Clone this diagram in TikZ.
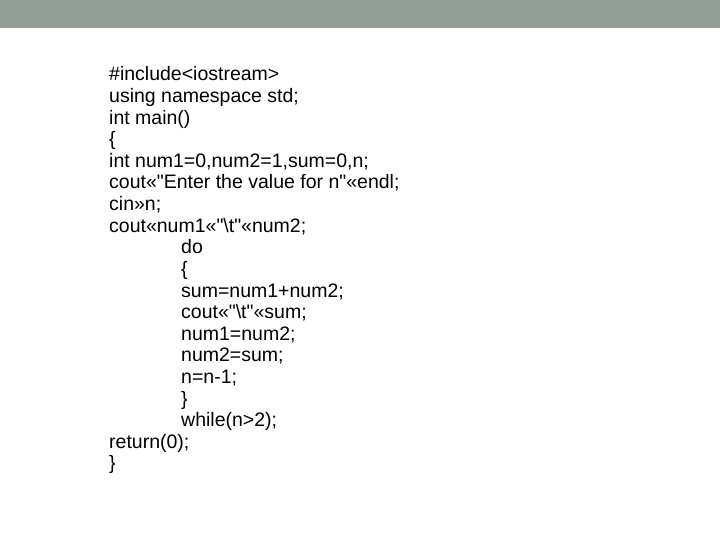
\documentclass[tikz,border=0pt]{standalone}
\usepackage{fontspec}
\setmainfont{Liberation Sans}[Ligatures=ResetAll]
\definecolor{band}{RGB}{146,160,151}
\begin{document}
\begin{tikzpicture}[x=1pt,y=-1pt,
  code/.style={anchor=base west,inner sep=0pt,font=\fontsize{19.5}{21}\selectfont}]
\useasboundingbox (0,0) rectangle (720,540);
\fill[white] (0,0) rectangle (720,540);
\fill[band] (0,0) rectangle (720,28);
\def\A{109}\def\B{181}
\node[code] (l1) at (\A,81) {\#include\textless iostream\textgreater};
\node[code] (l2) at (\A,102.6) {using namespace std;};
\node[code] (l3) at (\A,124.2) {int main()};
\node[code] (l4) at (\A,145.8) {\{};
\node[code] (l5) at (\A,167.4) {int num1=0,num2=1,sum=0,n;};
\node[code] (l6) at (\A,189) {cout\textless\textless\textquotedbl Enter the value for n\textquotedbl\textless\textless endl;};
\node[code] (l7) at (\A,210.6) {cin\textgreater\textgreater n;};
\node[code] (l8) at (\A,232.2) {cout\textless\textless num1\textless\textless\textquotedbl\textbackslash t\textquotedbl\textless\textless num2;};
\node[code] (l9) at (\B,253.8) {do};
\node[code] (l10) at (\B,275.4) {\{};
\node[code] (l11) at (\B,297) {sum=num1+num2;};
\node[code] (l12) at (\B,318.6) {cout\textless\textless\textquotedbl\textbackslash t\textquotedbl\textless\textless sum;};
\node[code] (l13) at (\B,340.2) {num1=num2;};
\node[code] (l14) at (\B,361.8) {num2=sum;};
\node[code] (l15) at (\B,383.4) {n=n-1;};
\node[code] (l16) at (\B,405) {\}};
\node[code] (l17) at (\B,426.6) {while(n\textgreater 2);};
\node[code] (l18) at (\A,448.2) {return(0);};
\node[code] (l19) at (\A,469.8) {\}};
\end{tikzpicture}
\end{document}
